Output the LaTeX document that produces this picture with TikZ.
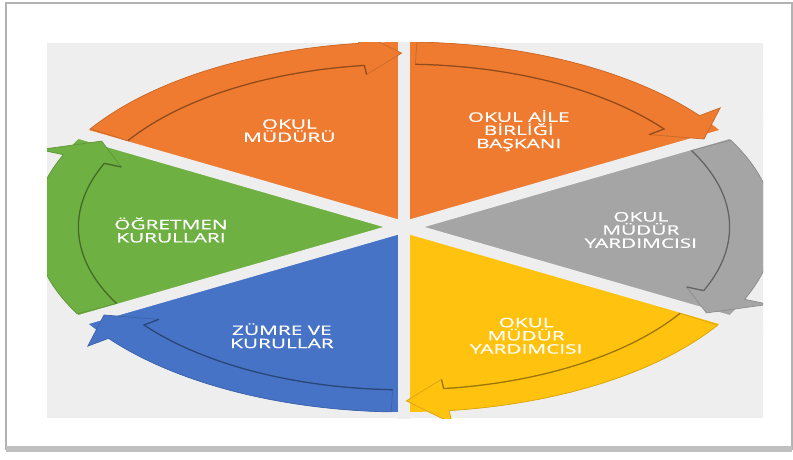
\documentclass[tikz,border=0pt]{standalone}
\usepackage{fontspec}
\newfontfamily\lblfont[FakeStretch=1.6,FakeBold=0.8]{Open Sans}
\definecolor{segorange}{HTML}{EE7B30}
\definecolor{seggray}{HTML}{A5A5A5}
\definecolor{segyellow}{HTML}{FFC20E}
\definecolor{segblue}{HTML}{4673C6}
\definecolor{seggreen}{HTML}{6FB042}
\definecolor{bggray}{HTML}{EEEEEE}
\tikzset{
  seglabel/.style={text=white,font=\lblfont\fontsize{7.4}{7.5}\selectfont,align=center,inner sep=0pt},
  gapline/.style={draw=bggray,line width=6.5pt},
  frameline/.style={draw=black!30,line width=1.2pt}
}
\begin{document}
\begin{tikzpicture}
\useasboundingbox (0,0) rectangle (15.86,9.18);
\fill[white] (0,0) rectangle (15.86,9.18);
\draw[frameline] (0.12,0.2) rectangle (15.84,9.12);
\draw[black!25,line width=3pt] (0.12,0.2) -- (15.84,0.2);
\fill[bggray] (0.94,0.82) rectangle (15.26,8.32);
\begin{scope}
\clip (0.94,0.82) rectangle (15.26,8.32);
\begin{scope}[shift={(8.08,4.64)},xscale=7.4,yscale=3.7]
\foreach \s/\c in {150/segorange,90/segorange,30/seggray,-30/segyellow,-90/segblue,-150/seggreen}
  \fill[\c] (0,0) -- (\s:1) arc[start angle=\s,end angle=\s-60,radius=1] -- cycle;
\foreach \s in {150,90,30,-30,-90,-150}
  \draw[gapline] (0,0) -- (\s:1.2);
\foreach \s/\c [evaluate=\s as \t using \s-2, evaluate=\s as \hb using \s-53, evaluate=\s as \tip using \s-59.6] in {150/segorange,90/segorange,30/seggray,-30/segyellow,-90/segblue,-150/seggreen}{
  \filldraw[fill=\c,draw=\c!85!black,line width=0.4pt] (\t:1) arc[start angle=\t,end angle=\hb,radius=1] -- (\hb:1.07) -- (\tip:0.94) -- (\hb:0.83) -- (\hb:0.88) arc[start angle=\hb,end angle=\t,radius=0.88] -- cycle;
  \draw[\c!60!black,line width=0.7pt] (\t:0.88) arc[start angle=\t,end angle=\hb,radius=0.88] -- (\hb:0.83);
}
\end{scope}
\end{scope}
\begin{scope}[shift={(8.08,4.64)},xscale=7.4,yscale=3.7]
\foreach \m/\r/\txt [count=\i] in {120/0.62/{OKUL\\MÜDÜRÜ},60/0.62/{OKUL AİLE\\BİRLİĞİ\\BAŞKANI},0/0.64/{OKUL\\MÜDÜR\\YARDIMCISI},-60/0.66/{OKUL\\MÜDÜR\\YARDIMCISI},-120/0.66/{ZÜMRE VE\\KURULLAR},180/0.63/{ÖĞRETMEN\\KURULLARI}}
  \node[seglabel,yshift=-0.06cm] (lbl\i) at (\m:\r) {\txt};
\end{scope}
\end{tikzpicture}
\end{document}
